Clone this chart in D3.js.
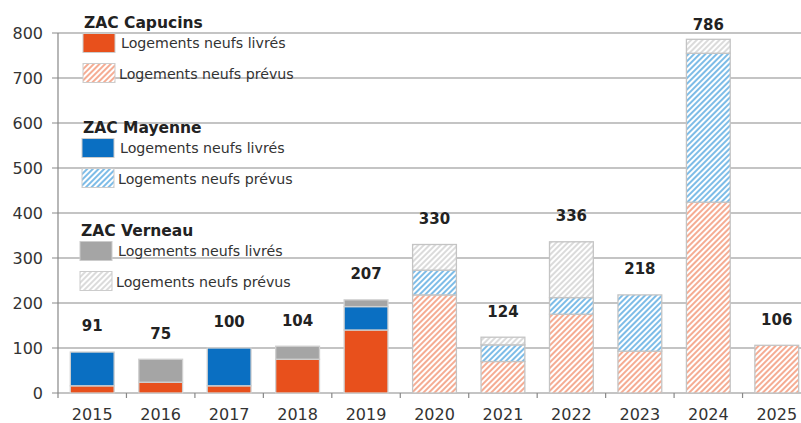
<!DOCTYPE html>
<html>
<head>
<meta charset="utf-8">
<script src="https://cdn.jsdelivr.net/npm/d3@7"></script>
<style>
  body { margin: 0; background: #fff; }
  svg { display: block; font-family: "DejaVu Sans", sans-serif; }
</style>
</head>
<body>
<div id="chart"></div>
<script>
"use strict";

// data
const years = ["2015","2016","2017","2018","2019","2020","2021","2022","2023","2024","2025"];
const capLivres = [16, 24, 16, 75, 140, 0, 0, 0, 0, 0, 0];
const capPrevus = [0, 0, 0, 0, 0, 218, 70, 175, 93, 424, 106];
const mayLivres = [75, 0, 84, 0, 52, 0, 0, 0, 0, 0, 0];
const mayPrevus = [0, 0, 0, 0, 0, 55, 37, 37, 125, 331, 0];
const verLivres = [0, 51, 0, 29, 15, 0, 0, 0, 0, 0, 0];
const verPrevus = [0, 0, 0, 0, 0, 57, 17, 124, 0, 31, 0];
const yTicks = [0, 100, 200, 300, 400, 500, 600, 700, 800];

const W = 801, H = 423;
const svg = d3.select("#chart").append("svg").attr("width", W).attr("height", H);

const keys = ["capLiv", "capPrev", "mayLiv", "mayPrev", "verLiv", "verPrev"];
const table = years.map((y, i) => ({
    year: y,
    capLiv: capLivres[i], capPrev: capPrevus[i],
    mayLiv: mayLivres[i], mayPrev: mayPrevus[i],
    verLiv: verLivres[i], verPrev: verPrevus[i]
}));
const totals = table.map(d => keys.reduce((s, k) => s + d[k], 0));

const x = d3.scaleBand().domain(years).range([58, 811]).paddingInner(0.36).paddingOuter(0.18);
const y = d3.scaleLinear().domain([0, 800]).range([393, 33]);

// hatch patterns
const defs = svg.append("defs");
function hatch(id, color) {
    const p = defs.append("pattern")
        .attr("id", id)
        .attr("patternUnits", "userSpaceOnUse")
        .attr("width", 4).attr("height", 4)
        .attr("patternTransform", "rotate(45)");
    p.append("rect").attr("width", 4).attr("height", 4).attr("fill", "#fff");
    p.append("line").attr("x1", 1).attr("y1", 0).attr("x2", 1).attr("y2", 4)
        .attr("stroke", color).attr("stroke-width", 1.5);
}
hatch("hOrange", "#f2906f");
hatch("hBlue", "#52a6e0");
hatch("hGray", "#cfcfcf");

const fills = {
    capLiv: "#e8501c", capPrev: "url(#hOrange)",
    mayLiv: "#0a6fc2", mayPrev: "url(#hBlue)",
    verLiv: "#a5a5a5", verPrev: "url(#hGray)"
};

// gridlines
svg.append("g").selectAll("line").data(yTicks).join("line")
    .attr("x1", 52).attr("x2", W)
    .attr("y1", d => y(d)).attr("y2", d => y(d))
    .attr("stroke", "#8a8a8a")
    .attr("stroke-width", 1.2);

// y axis line
svg.append("line").attr("x1", 58).attr("x2", 58).attr("y1", y(800)).attr("y2", y(0))
    .attr("stroke", "#888").attr("stroke-width", 1.2);

// y tick labels
svg.append("g").selectAll("text").data(yTicks).join("text")
    .attr("x", 43).attr("y", d => y(d)).attr("dy", "0.36em")
    .attr("text-anchor", "end").attr("font-size", 16).attr("fill", "#333")
    .text(d => d);

// x ticks at band boundaries
const step = x.step();
svg.append("g").selectAll("line").data(d3.range(years.length + 1)).join("line")
    .attr("x1", i => 58 + i * step).attr("x2", i => 58 + i * step)
    .attr("y1", y(0)).attr("y2", y(0) + 5)
    .attr("stroke", "#888").attr("stroke-width", 1.2);

svg.append("g").selectAll("text").data(years).join("text")
    .attr("x", d => x(d) + x.bandwidth() / 2).attr("y", 420)
    .attr("text-anchor", "middle").attr("font-size", 16).attr("fill", "#333")
    .text(d => d);

// stacked bars
const series = d3.stack().keys(keys)(table);
svg.append("g").selectAll("g").data(series).join("g")
    .attr("fill", s => fills[s.key])
    .attr("stroke", s => s.key.endsWith("Prev") ? "#c4c4c4" : "#d0d0d0")
    .attr("stroke-width", 1.3)
  .selectAll("rect").data(s => s.filter(d => d[1] > d[0])).join("rect")
    .attr("x", d => x(d.data.year))
    .attr("width", x.bandwidth())
    .attr("y", d => y(d[1]))
    .attr("height", d => y(d[0]) - y(d[1]));

// totals (kept inside the top of the frame)
svg.append("g").selectAll("text").data(years).join("text")
    .attr("x", d => x(d) + x.bandwidth() / 2)
    .attr("y", (d, i) => Math.max(25, y(totals[i]) - 26)).attr("dy", "0.36em")
    .attr("text-anchor", "middle").attr("font-size", 15).attr("font-weight", "bold")
    .attr("fill", "#222")
    .text((d, i) => totals[i]);

// legend
const legendGroups = [
    { title: "ZAC Capucins", liv: "capLiv", prev: "capPrev", x: 83, y: 22.5 },
    { title: "ZAC Mayenne", liv: "mayLiv", prev: "mayPrev", x: 82, y: 127.5 },
    { title: "ZAC Verneau", liv: "verLiv", prev: "verPrev", x: 80, y: 230.5 }
];
const lg = svg.append("g").selectAll("g").data(legendGroups).join("g")
    .attr("transform", d => "translate(" + d.x + "," + d.y + ")");
lg.append("text").attr("x", 1).attr("y", 0).attr("dy", "0.36em")
    .attr("font-size", 15.5).attr("font-weight", "bold").attr("fill", "#222")
    .text(d => d.title);
lg.append("rect").attr("x", 0).attr("y", 11).attr("width", 32).attr("height", 19)
    .attr("fill", d => fills[d.liv]).attr("stroke", "#ccc").attr("stroke-width", 1);
lg.append("rect").attr("x", 0).attr("y", 41).attr("width", 32).attr("height", 19)
    .attr("fill", d => fills[d.prev]).attr("stroke", "#ccc").attr("stroke-width", 1);
lg.append("text").attr("x", 38).attr("y", 20).attr("dy", "0.36em")
    .attr("font-size", 14.2).attr("fill", "#333").text("Logements neufs livrés");
lg.append("text").attr("x", 36).attr("y", 51).attr("dy", "0.36em")
    .attr("font-size", 14.2).attr("fill", "#333").text("Logements neufs prévus");
</script>
</body>
</html>
